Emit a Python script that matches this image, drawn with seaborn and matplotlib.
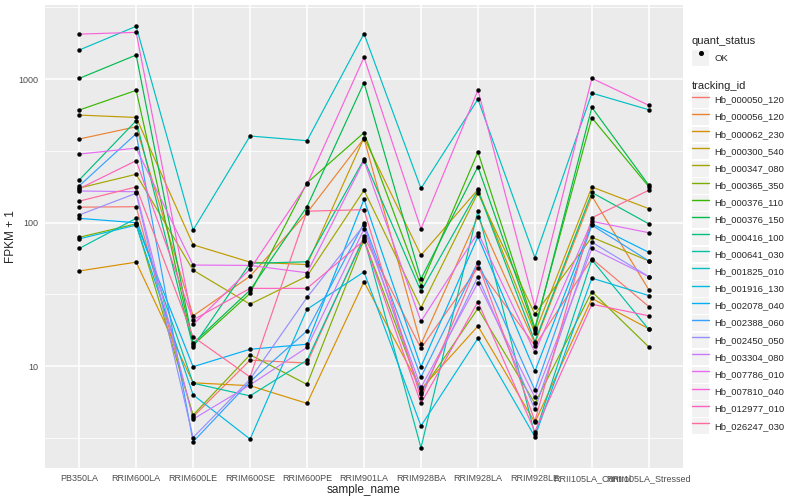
import numpy as np
import pandas as pd
import matplotlib
matplotlib.use("Agg")
import matplotlib.pyplot as plt
import seaborn as sns
from matplotlib.lines import Line2D
from matplotlib.patches import Rectangle
from matplotlib.ticker import FixedLocator, NullFormatter

# ── Data (FPKM + 1) ──────────────────────────────────────────────────────────

sample_names = [
    "PB350LA", "RRIM600LA", "RRIM600LE", "RRIM600SE", "RRIM600PE", "RRIM901LA",
    "RRIM928BA", "RRIM928LA", "RRIM928LE", "RRII105LA_Control", "RRII105LA_Stressed",
]

tracking_ids = [
    "Hb_000050_120", "Hb_000056_120", "Hb_000062_230", "Hb_000300_540",
    "Hb_000347_080", "Hb_000365_350", "Hb_000376_110", "Hb_000376_150",
    "Hb_000416_100", "Hb_000641_030", "Hb_001825_010", "Hb_001916_130",
    "Hb_002078_040", "Hb_002388_060", "Hb_002450_050", "Hb_003304_080",
    "Hb_007786_010", "Hb_007810_040", "Hb_012977_010", "Hb_026247_030",
]

# one list per sample, values in tracking_ids order
pb350la    = [128, 382, 46, 561, 174, 79, 608, 1010, 198, 66, 1592, 77, 107, 180, 113, 166, 300, 2056, 172, 141]
rrim600la  = [129, 465, 53, 540, 217, 98, 834, 1470, 512, 107, 2330, 96, 99.7, 416, 160, 164, 330, 2115, 270, 177]
rrim600le  = [4.44, 22.4, 7.65, 70, 46.6, 4.56, 14, 14.4, 13.6, 7.6, 88.7, 6.3, 9.9, 2.97, 3.18, 4.27, 50.6, 19.5, 21, 16]
rrim600se  = [11.0, 42.3, 7.3, 53, 27, 12.0, 32.1, 33.8, 52, 6.2, 401, 3.1, 13.1, 7.8, 8.1, 7.4, 50.3, 47.4, 34.8, 8.4]
rrim600pe  = [10.5, 117, 5.5, 51, 42.3, 7.45, 189, 129, 53.3, 11.0, 372, 24.9, 14.2, 17.6, 30.1, 13.5, 44.7, 185, 34.8, 120]
rrim901la  = [80, 385, 38.7, 390, 168, 76, 423, 942, 276, 78, 2070, 45.3, 145, 99, 96, 90, 270, 1416, 75, 123]
rrim928ba  = [13.3, 14.2, 6.9, 59.2, 25.5, 6.6, 36.4, 40.5, 33.2, 2.7, 173, 3.83, 9.9, 8.4, 6.4, 7.1, 20.5, 90.6, 5.5, 5.95]
rrim928la  = [48.5, 110, 19, 170, 161, 25.2, 310, 245, 168, 121, 724, 15.6, 80, 53, 42, 38, 85, 837, 28, 52]
rrim928le  = [13.9, 14.4, 4.05, 17, 23, 5.5, 18.5, 17.8, 14.8, 3.34, 57, 3.22, 9.2, 6.8, 5.0, 6.05, 12.5, 25.9, 3.5, 4.14]
rrii105_control  = [56, 153, 29.6, 177, 79, 33, 537, 635, 162, 55, 798, 41, 98, 96, 73, 66, 102, 1012, 27, 108]
rrii105_stressed = [26, 34, 18.2, 125, 54, 13.6, 178, 182, 98, 18, 611, 31, 62, 54, 42, 42, 85, 656, 22.4, 168]

y_breaks = [10, 100, 1000]

# ggplot2 default hue palette for 20 levels
hue_colors = [
    "#F8766D", "#EA8331", "#D89000", "#C09B00", "#A3A500", "#7CAE00", "#39B600",
    "#00BB4E", "#00BF7D", "#00C1A3", "#00BFC4", "#00BAE0", "#00B0F6", "#35A2FF",
    "#9590FF", "#C77CFF", "#E76BF3", "#FA62DB", "#FF62BC", "#FF6A98",
]

columns = [pb350la, rrim600la, rrim600le, rrim600se, rrim600pe, rrim901la,
           rrim928ba, rrim928la, rrim928le, rrii105_control, rrii105_stressed]

rows = []
for sample, vals in zip(sample_names, columns):
    for tid, v in zip(tracking_ids, vals):
        rows.append({"sample_name": sample, "tracking_id": tid, "fpkm": v, "quant_status": "OK"})
df = pd.DataFrame(rows)

# ── Plot ─────────────────────────────────────────────────────────────────────

sns.set_theme(style="darkgrid", rc={
    "axes.facecolor": "#EBEBEB",
    "grid.color": "white",
    "axes.edgecolor": "#EBEBEB",
})
plt.rcParams["font.family"] = ["Liberation Sans", "DejaVu Sans"]

fig = plt.figure(figsize=(8, 5), dpi=100)
ax = fig.add_axes([45 / 800, 32 / 500, 638 / 800, 463 / 500])

palette = dict(zip(tracking_ids, hue_colors))
sns.lineplot(data=df, x="sample_name", y="fpkm", hue="tracking_id", palette=palette,
             estimator=None, sort=False, lw=0.85, legend=False, ax=ax)
sns.scatterplot(data=df, x="sample_name", y="fpkm", color="black", s=8,
                edgecolor="black", linewidth=0.3, legend=False, ax=ax, zorder=5)

ax.set_yscale("log")
ax.set_ylim(1.95, 3280)
ax.set_xlim(-0.6, len(sample_names) - 0.4)
ax.yaxis.set_major_locator(FixedLocator(y_breaks))
ax.set_yticklabels([str(b) for b in y_breaks])
ax.yaxis.set_minor_locator(FixedLocator([10 ** 0.5, 10 ** 1.5, 10 ** 2.5, 10 ** 3.5]))
ax.yaxis.set_minor_formatter(NullFormatter())
ax.grid(which="major", color="white", lw=1.1)
ax.grid(which="minor", axis="y", color="white", lw=0.55)
ax.tick_params(axis="both", which="major", length=2.5, width=0.6, color="#333333",
               labelsize=6.5, labelcolor="#4D4D4D", pad=2)
ax.tick_params(axis="y", which="minor", length=0)
for s in ax.spines.values():
    s.set_visible(False)

ax.set_xlabel("sample_name", fontsize=8.5, labelpad=0.5)
ax.set_ylabel("FPKM + 1", fontsize=8.5, labelpad=1.5)

# ── Legends ──────────────────────────────────────────────────────────────────

leg_fs = 6.8
legend_kw = dict(loc="upper left", frameon=False, fontsize=leg_fs, title_fontsize=8,
                 alignment="left", handlelength=1.84,
                 handletextpad=0.55, labelspacing=0.0, borderaxespad=0, borderpad=0)

ok_handle = [Line2D([], [], marker="o", color="black", ls="", ms=2.6)]
leg1 = fig.legend(ok_handle, ["OK"], title="quant_status", handleheight=3.5,
                  bbox_to_anchor=(692 / 800, 1 - 36 / 500), **legend_kw)

line_handles = [Line2D([], [], color=c, lw=1.0) for c in hue_colors]
leg2 = fig.legend(line_handles, tracking_ids, title="tracking_id", handleheight=2.42,
                  bbox_to_anchor=(692 / 800, 1 - 81 / 500), **legend_kw)

# grey key backgrounds behind each legend handle
fig.canvas.draw()
px = leg_fs * 100 / 72
w = 17.0
for leg in (leg1, leg2):
    for txt in leg.get_texts():
        bb = txt.get_window_extent()
        yc = (bb.y0 + bb.y1) / 2
        x1 = bb.x0 - 0.55 * px
        rect = Rectangle(((x1 - w) / 800, (yc - w / 2 + 0.6) / 500), w / 800, (w - 1.3) / 500,
                         transform=fig.transFigure, facecolor="#F2F2F2",
                         edgecolor="none", zorder=0)
        fig.add_artist(rect)

fig.savefig("out.png", dpi=100)
